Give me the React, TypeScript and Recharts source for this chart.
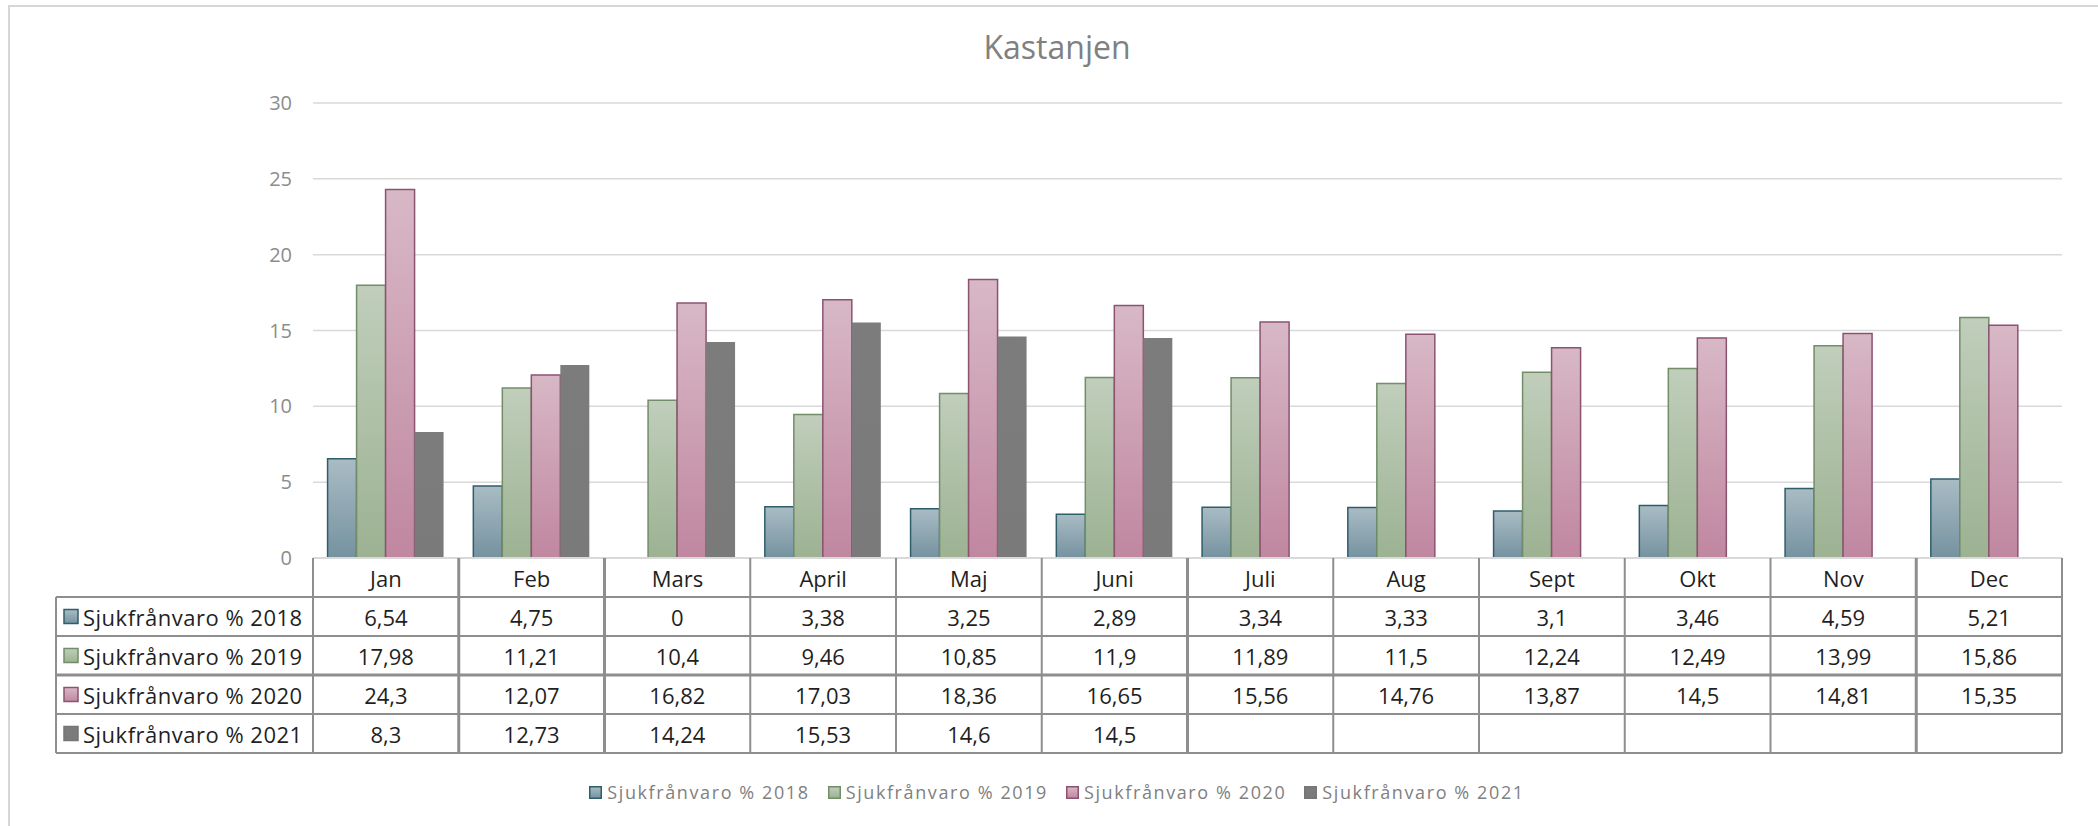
import React from 'react';
import { BarChart, Bar, XAxis, YAxis, CartesianGrid, Legend } from 'recharts';

const months = ['Jan', 'Feb', 'Mars', 'April', 'Maj', 'Juni', 'Juli', 'Aug', 'Sept', 'Okt', 'Nov', 'Dec'];
const values2018: (number | null)[] = [6.54, 4.75, 0, 3.38, 3.25, 2.89, 3.34, 3.33, 3.1, 3.46, 4.59, 5.21];
const values2019: (number | null)[] = [17.98, 11.21, 10.4, 9.46, 10.85, 11.9, 11.89, 11.5, 12.24, 12.49, 13.99, 15.86];
const values2020: (number | null)[] = [24.3, 12.07, 16.82, 17.03, 18.36, 16.65, 15.56, 14.76, 13.87, 14.5, 14.81, 15.35];
const values2021: (number | null)[] = [8.3, 12.73, 14.24, 15.53, 14.6, 14.5, null, null, null, null, null, null];
const yTicks = [0, 5, 10, 15, 20, 25, 30];
const title = 'Kastanjen';

const series = [
  { key: 's2018', name: 'Sjukfrånvaro % 2018', values: values2018, top: '#a9bcc4', bottom: '#7592a0', stroke: '#2f5e6b' },
  { key: 's2019', name: 'Sjukfrånvaro % 2019', values: values2019, top: '#c0cebb', bottom: '#9cb292', stroke: '#728d68' },
  { key: 's2020', name: 'Sjukfrånvaro % 2020', values: values2020, top: '#d8b8c6', bottom: '#c087a0', stroke: '#8c5370' },
  { key: 's2021', name: 'Sjukfrånvaro % 2021', values: values2021, top: '#7c7c7c', bottom: '#7a7a7a', stroke: '#767676' },
];

const data = months.map((m, i) => {
  const row: Record<string, any> = { month: m };
  series.forEach((s) => { row[s.key] = s.values[i]; });
  return row;
});

const W = 2098;
const H = 826;
const MARGIN = { top: 103, right: 36, bottom: 22, left: 0 };
const Y_WIDTH = 313;
const X_HEIGHT = 222;
const PLOT_LEFT = MARGIN.left + Y_WIDTH;
const PLOT_RIGHT = W - MARGIN.right;
const COL_W = (PLOT_RIGHT - PLOT_LEFT) / months.length;
const ROW_H = 39;
const TABLE_LEFT = 56;
const LINE = '#8e8e8e';
const FONT = "'Open Sans', sans-serif";

const fmt = (v: number | null) => (v === null || v === undefined ? '' : String(v).replace('.', ','));

function TableTick(props: any) {
  const { payload, index } = props;
  const cx = payload.coordinate;
  const top = props.y;
  const left = cx - COL_W / 2;
  const right = cx + COL_W / 2;
  const bottom = top + ROW_H * 5;
  const thick = [0, 1, 5, 10].includes(index);
  const els: any[] = [];
  if (index === 0) {
    const tableRight = left + COL_W * months.length;
    for (let r = 1; r <= 5; r++) {
      const y = top + ROW_H * r;
      els.push(
        <line key={'h' + r} x1={TABLE_LEFT} x2={tableRight} y1={y} y2={y} stroke={LINE} strokeWidth={r === 3 ? 3.2 : 2} />
      );
    }
    els.push(<line key="lb" x1={TABLE_LEFT} x2={TABLE_LEFT} y1={top + ROW_H} y2={bottom} stroke={LINE} strokeWidth={2} />);
    els.push(<line key="jl" x1={left} x2={left} y1={top} y2={bottom} stroke={LINE} strokeWidth={2} />);
    series.forEach((s, r) => {
      const yc = top + ROW_H * (r + 1) + ROW_H / 2;
      els.push(
        <rect key={'sq' + r} x={64} y={yc - 7} width={14} height={14} fill={`url(#grad-${s.key})`} stroke={s.stroke} strokeWidth={1.5} />
      );
      els.push(
        <text key={'lt' + r} x={83} y={yc} dominantBaseline="central" fontSize={22} fill="#1f1f1f" fontFamily={FONT} letterSpacing={0.5}>
          {s.name}
        </text>
      );
    });
  }
  els.push(
    <line key="vr" x1={right} x2={right} y1={top} y2={bottom} stroke={LINE} strokeWidth={thick ? 3 : 2} />
  );
  els.push(
    <text key="mh" x={cx} y={top + ROW_H / 2} textAnchor="middle" dominantBaseline="central" fontSize={22} fill="#1f1f1f" fontFamily={FONT}>
      {payload.value}
    </text>
  );
  series.forEach((s, r) => {
    els.push(
      <text key={'v' + r} x={cx} y={top + ROW_H * (r + 1) + ROW_H / 2} textAnchor="middle" dominantBaseline="central" fontSize={22} fill="#1f1f1f" fontFamily={FONT}>
        {fmt(s.values[index])}
      </text>
    );
  });
  return <g>{els}</g>;
}

function LegendContent() {
  return (
    <div style={{ display: 'flex', justifyContent: 'center', alignItems: 'center', height: 24, width: 2114, fontFamily: FONT }}>
      {series.map((s, i) => (
        <div key={s.key} style={{ display: 'flex', alignItems: 'center', marginLeft: i === 0 ? 0 : 18 }}>
          <svg width={13} height={13} style={{ marginRight: 5 }}>
            <rect x={0.75} y={0.75} width={11.5} height={11.5} fill={`url(#grad-${s.key})`} stroke={s.stroke} strokeWidth={1.5} />
          </svg>
          <span style={{ fontSize: 18, color: '#7f7f7f', letterSpacing: 1.6, whiteSpace: 'nowrap' }}>{s.name}</span>
        </div>
      ))}
    </div>
  );
}

export default function App() {
  return (
    <div style={{ position: 'absolute', left: 0, top: 0, width: W, height: H, background: '#fff', overflow: 'hidden' }}>
      <div style={{ position: 'absolute', left: 8, top: 5, width: W + 10, height: H + 10, borderTop: '2px solid #d6d6d6', borderLeft: '2px solid #d6d6d6' }} />
      <div style={{ position: 'absolute', left: 0, top: 27, width: 2114, textAlign: 'center', fontFamily: FONT, fontSize: 32, lineHeight: '40px', color: '#808080' }}>
        {title}
      </div>
      <BarChart width={W} height={H} data={data} margin={MARGIN} barCategoryGap="10%" barGap={0}>
        <defs>
          {series.map((s) => (
            <linearGradient key={s.key} id={`grad-${s.key}`} x1="0" y1="0" x2="0" y2="1">
              <stop offset="0%" stopColor={s.top} />
              <stop offset="100%" stopColor={s.bottom} />
            </linearGradient>
          ))}
        </defs>
        <CartesianGrid vertical={false} stroke="#d9d9d9" strokeWidth={1.5} />
        <YAxis
          width={Y_WIDTH}
          domain={[0, 30]}
          ticks={yTicks}
          axisLine={false}
          tickLine={false}
          tickSize={6}
          tickMargin={15}
          tick={{ fontSize: 20, fill: '#8c8c8c', fontFamily: FONT }}
        />
        <XAxis
          dataKey="month"
          height={X_HEIGHT}
          interval={0}
          axisLine={{ stroke: '#d9d9d9', strokeWidth: 2 }}
          tickLine={false}
          tickSize={0}
          tickMargin={0}
          tick={<TableTick />}
        />
        <Legend verticalAlign="bottom" wrapperStyle={{ left: 0, width: 2114 }} content={() => <LegendContent />} />
        {series.map((s) => (
          <Bar
            key={s.key}
            dataKey={s.key}
            name={s.name}
            fill={`url(#grad-${s.key})`}
            stroke={s.stroke}
            strokeWidth={s.key === 's2021' ? 0 : 1.5}
            isAnimationActive={false}
          />
        ))}
      </BarChart>
    </div>
  );
}
